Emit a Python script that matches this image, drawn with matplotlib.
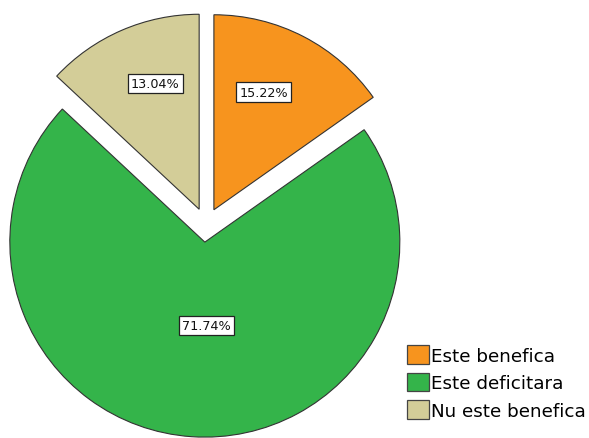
import matplotlib
matplotlib.use('Agg')

import numpy as np
import matplotlib.pyplot as plt
from matplotlib.patches import Patch

labels = ['Este benefica', 'Este deficitara', 'Nu este benefica']
values = [15.22, 71.74, 13.04]
colors = ['#F7941E', '#34B44A', '#D3CD98']

# pie centre and radius in pixels
W, H = 589, 439
cx, cy, rad = 206, 226, 195

fig = plt.figure(figsize=(W / 100, H / 100), dpi=100)
ax = fig.add_axes([0, 0, 1, 1])

wedges, texts, autotexts = ax.pie(
    values, colors=colors, startangle=90, counterclock=False,
    explode=[0.088] * 3, radius=1.0, autopct='%.2f%%', pctdistance=0.68,
    wedgeprops=dict(edgecolor='#333333', linewidth=0.8),
    textprops=dict(fontsize=9.2, color='#111111'))

ax.set_xlim(-cx / rad, (W - cx) / rad)
ax.set_ylim(-(H - cy) / rad, cy / rad)
ax.set_aspect('equal')
ax.axis('off')

for t in autotexts:
    t.set_bbox(dict(boxstyle='square,pad=0.25', facecolor='white',
                    edgecolor='#222222', linewidth=0.9))

# nudge labels (pixel offsets) to where the percentages usually sit
nudges = [(-11, 0), (8, 7), (9, 4)]
for t, (dx, dy) in zip(autotexts, nudges):
    x, y = t.get_position()
    if t is autotexts[1]:
        x, y = x * 0.72, y * 0.72
    t.set_position((x + dx / rad, y + dy / rad))

handles = [Patch(facecolor=c, edgecolor='#444444', linewidth=0.9) for c in colors]
fig.legend(handles, labels, loc='lower left', bbox_to_anchor=(0.672, 0.017),
           frameon=False, fontsize=13.2, handlelength=1.2, handleheight=1.2,
           handletextpad=0.1, labelspacing=0.42, borderpad=0.1)

plt.savefig('out.png', dpi=100)
